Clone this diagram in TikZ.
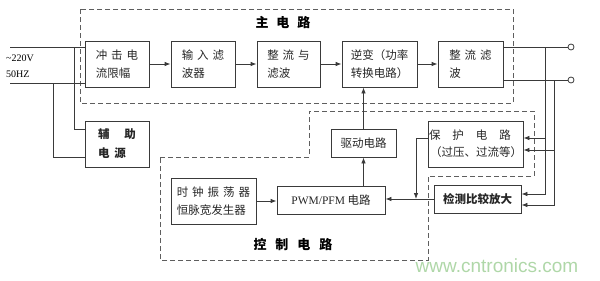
\documentclass[tikz,border=0pt]{standalone}
\usepackage{fontspec}
\setmainfont{Liberation Serif}
\newfontfamily\cjk{Noto Sans CJK SC}
\newfontfamily\wmfont{Liberation Sans}
\usetikzlibrary{arrows.meta}
\definecolor{ln}{HTML}{3A3A3A}
\definecolor{dsh}{HTML}{5E5E5E}
\definecolor{wm}{RGB}{175,215,168}
\tikzset{
  boxst/.style={draw=ln, line width=0.8pt, align=left, inner sep=0pt,
    font=\cjk\fontsize{11.5}{18}\selectfont, text=black!85},
  conn/.style={draw=ln, line width=0.8pt},
  arr/.style={conn, -{Latex[length=6pt,width=4.5pt]}},
  dashbox/.style={draw=dsh, line width=1pt, dash pattern=on 5pt off 3pt},
  term/.style={circle, draw=ln, line width=0.8pt, inner sep=0pt, minimum size=6pt, fill=white},
  ttl/.style={font=\cjk\bfseries\fontsize{13}{15}\selectfont},
}
\newcommand\gp{\hspace{4pt}}
\begin{document}
\begin{tikzpicture}[x=1pt,y=-1pt]
\useasboundingbox (0,0) rectangle (600,281);
% dashed regions
\draw[dashbox] (80,9) rectangle (513,103);
\draw[dashbox] (160,157) -- (309,157) -- (309,111) -- (534,111) -- (534,176) -- (428,176) -- (428,260) -- (160,260) -- cycle;
\node[ttl] (tmain) at (283,23) {主\hspace{8pt}电\hspace{8pt}路};
\node[ttl] (tctrl) at (293,245) {控\hspace{9pt}制\hspace{9pt}电\hspace{9pt}路};
% main row
\node[boxst, minimum width=64pt, minimum height=46pt] (b1) at (117,64) {冲\gp 击\gp 电\\流限幅};
\node[boxst, minimum width=64pt, minimum height=46pt] (b2) at (203,64) {输\gp 入\gp 滤\\波器};
\node[boxst, minimum width=63pt, minimum height=46pt] (b3) at (288.5,64) {整\gp 流\gp 与\\滤波};
\node[boxst, minimum width=75pt, minimum height=46pt] (b4) at (379.5,64) {逆变（功率\\转换电路）};
\node[boxst, minimum width=65pt, minimum height=46pt] (b5) at (470.5,64) {整\gp 流\gp 滤\\波\hphantom{\gp 流\gp 滤}};
\draw[arr] (b1) -- (b2);
\draw[arr] (b2) -- (b3);
\draw[arr] (b3) -- (b4);
\draw[arr] (b4) -- (b5);
% auxiliary supply
\node[boxst, minimum width=64pt, minimum height=46pt, font=\cjk\bfseries\fontsize{11.5}{19}\selectfont] (aux) at (117,144) {辅\hspace{15pt}助\\电\hspace{5pt}源\hphantom{\hspace{10pt}}};
% inputs
\node[anchor=west, font=\fontsize{10}{12}\selectfont, inner sep=0pt] (v220) at (6,58) {\textasciitilde 220V};
\node[anchor=west, font=\fontsize{10}{12}\selectfont, inner sep=0pt] (hz) at (6,74) {50HZ};
\coordinate (in1) at (10,47);
\coordinate (in2) at (10,83);
\coordinate (j1) at (74,47);
\coordinate (j2) at (53,83);
\draw[conn] (in1) -- (in1 -| b1.west);
\draw[conn] (in2) -- (in2 -| b1.west);
\draw[conn] (j1) |- ([yshift=15pt]aux.west);
\draw[conn] (j2) |- ([yshift=-13pt]aux.west);
% outputs
\node[term] (o1) at (571,47) {};
\node[term] (o2) at (571,80) {};
\draw[conn] (b5.east |- o1) -- (o1);
\draw[conn] (b5.east |- o2) -- (o2);
% control part
\node[boxst, minimum width=65pt, minimum height=28pt] (drv) at (363.5,143) {驱动电路};
\node[boxst, minimum width=95pt, minimum height=46pt, font=\cjk\fontsize{11.5}{17}\selectfont] (prot) at (475.5,144) {保\hspace{12pt}护\hspace{12pt}电\hspace{12pt}路\\\hspace{1pt}（过压、过流等）};
\node[boxst, minimum width=87pt, minimum height=28pt, font=\cjk\bfseries\fontsize{11.5}{14}\selectfont] (det) at (477.5,199) {检测比较放大};
\node[boxst, minimum width=85pt, minimum height=46pt] (clk) at (213.5,201) {时\gp 钟\gp 振\gp 荡\gp 器\\恒脉宽发生器};
\node[boxst, minimum width=108pt, minimum height=28pt] (pwm) at (331,200) {{\rmfamily PWM/PFM} 电路};
\draw[arr] (drv.north) -- (drv.north |- b4.south);
\draw[arr] (drv.south |- pwm.north) -- (drv.south);
\draw[arr] (clk.east) -- (clk.east -| pwm.west);
\draw[arr] (det.west) -- (det.west -| pwm.east);
\coordinate (jp) at (416,199);
\draw[arr] ([yshift=6pt]prot.west) -| (jp);
% feedback
\coordinate (t1) at (545,47);
\coordinate (t2) at (554,80);
\draw[arr] (t1) |- ([yshift=6pt]prot.east);
\draw[arr] (t1) |- ([yshift=5pt]det.east);
\draw[arr] (t2) |- ([yshift=-6pt]prot.east);
\draw[arr] (t2) |- ([yshift=-6pt]det.east);
% watermark
\node[font=\wmfont\fontsize{19}{21}\selectfont, text=wm, inner sep=0pt] (wmark) at (497,266) {www.cntronics.com};
\end{tikzpicture}
\end{document}
